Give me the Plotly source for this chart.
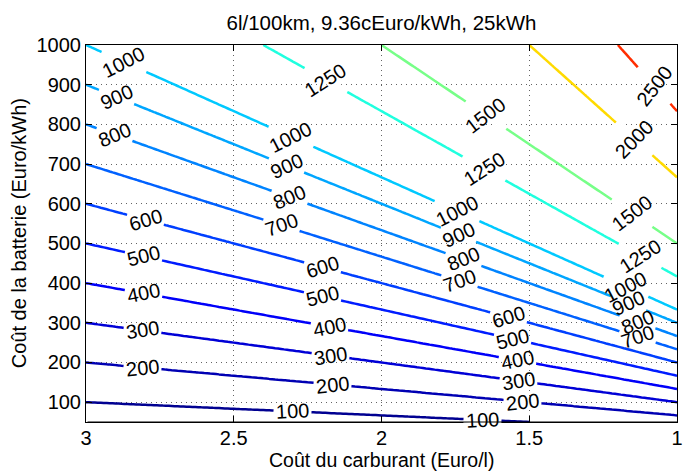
import math
import numpy as np
import plotly.graph_objects as go

# Axes of the study grid
fuel_price = np.linspace(1.0, 3.0, 201)        # Euro / l
battery_cost = np.linspace(50.0, 1000.0, 191)  # Euro / kWh

# Reference fuel price at which the index equals the battery cost
REF_FUEL_PRICE = 3.0

# Contour levels drawn on the chart
levels = [100, 200, 300, 400, 500, 600, 700, 800, 900, 1000, 1250, 1500, 2000, 2500]

# Fuel prices at which each level carries an inline label
label_fuel_prices = {
    100: [2.30, 1.657],
    200: [2.81, 2.166, 1.523],
    300: [2.81, 2.173, 1.536],
    400: [2.806, 2.176, 1.539],
    500: [2.806, 2.199, 1.556],
    600: [2.80, 2.199, 1.57],
    700: [2.34, 1.737, 1.134],
    800: [2.903, 2.31, 1.724, 1.134],
    900: [2.896, 2.32, 1.74, 1.164],
    1000: [2.873, 2.307, 1.744, 1.174],
    1250: [2.189, 1.653, 1.124],
    1500: [1.647, 1.151],
    2000: [1.144],
    2500: [1.077],
}

x_tick_vals = [3, 2.5, 2, 1.5, 1]
x_tick_text = ["3", "2.5", "2", "1.5", "1"]
y_tick_vals = [100, 200, 300, 400, 500, 600, 700, 800, 900, 1000]

title_text = "6l/100km, 9.36cEuro/kWh, 25kWh"
x_title = "Coût du carburant (Euro/l)"
y_title = "Coût de la batterie (Euro/kWh)"

X_RANGE = [3, 1]
Y_RANGE = [50, 1000]

# Index surface: battery cost scaled by the fuel price ratio
z = np.outer(battery_cost, REF_FUEL_PRICE / fuel_price)
z_min, z_max = float(z.min()), float(z.max())

W, H = 684, 471
M = dict(l=86, r=1, t=45, b=49)
plot_w = W - M["l"] - M["r"]
plot_h = H - M["t"] - M["b"]
px_per_x = plot_w / abs(X_RANGE[1] - X_RANGE[0])
px_per_y = plot_h / abs(Y_RANGE[1] - Y_RANGE[0])

FONT = "Liberation Sans, Arial, Helvetica, sans-serif"
LABEL_SIZE = 20
LABEL_TILT = 1.15  # labels lean a little steeper than the lines they sit on


def jet(t):
    """Classic jet colormap, t in [0, 1]."""
    t = min(max(t, 0.0), 1.0)
    r = np.clip(min(4 * t - 1.5, -4 * t + 4.5), 0, 1)
    g = np.clip(min(4 * t - 0.5, -4 * t + 3.5), 0, 1)
    b = np.clip(min(4 * t + 0.5, -4 * t + 2.5), 0, 1)
    return "rgb({},{},{})".format(int(round(r * 255)), int(round(g * 255)), int(round(b * 255)))


fig = go.Figure()
for lev in levels:
    color = jet((lev - z_min) / (z_max - z_min))
    fig.add_trace(go.Contour(
        x=fuel_price,
        y=battery_cost,
        z=z,
        contours=dict(start=lev, end=lev, size=1, coloring="none", showlabels=False),
        line=dict(color=color, width=2.5, smoothing=0),
        showscale=False,
        hoverinfo="skip",
    ))

# Inline labels: a thin white strip along the line opens a gap, then the text on top
gap_boxes, label_texts = [], []
for lev, xs in label_fuel_prices.items():
    # on-screen slope of the iso-line (it falls to the right on the reversed axis)
    slope = lev / REF_FUEL_PRICE * px_per_y / px_per_x
    line_deg = math.degrees(math.atan(slope))
    text_deg = math.degrees(math.atan(LABEL_TILT * slope))
    txt = str(lev)
    txt_w = 0.556 * LABEL_SIZE * len(txt)
    for xv in xs:
        yv = lev * xv / REF_FUEL_PRICE
        gap_boxes.append(dict(
            x=xv, y=yv, xref="x", yref="y", text=" ", showarrow=False,
            width=txt_w + 4, height=6, bgcolor="white", borderpad=0,
            textangle=line_deg, font=dict(size=1),
        ))
        label_texts.append(dict(
            x=xv, y=yv, xref="x", yref="y", text=txt, showarrow=False,
            textangle=-text_deg, borderpad=0,
            font=dict(family=FONT, size=LABEL_SIZE, color="black"),
        ))

# bottom frame edge redrawn over the gap strips
frame_fix = [dict(x=X_RANGE[1], y=Y_RANGE[0], ax=X_RANGE[0], ay=Y_RANGE[0],
                  xref="x", yref="y", axref="x", ayref="y", text="",
                  showarrow=True, arrowhead=0, arrowwidth=1, arrowcolor="black",
                  standoff=0, startstandoff=0)]

axis_titles = [
    dict(text=x_title, x=0.5, y=-(460 - (H - M["b"])) / plot_h, xref="paper", yref="paper",
         xanchor="center", yanchor="middle", showarrow=False,
         font=dict(family=FONT, size=19.5, color="black")),
    dict(text=y_title, x=-(M["l"] - 18) / plot_w, y=0.5, xref="paper", yref="paper",
         xanchor="center", yanchor="middle", showarrow=False, textangle=-90,
         font=dict(family=FONT, size=20, color="black")),
]

axis_common = dict(
    showline=True, linecolor="black", linewidth=1, mirror="ticks",
    ticks="inside", ticklen=6, tickcolor="black",
    showgrid=True, gridcolor="rgb(100,100,100)", griddash="1px,4px", gridwidth=1,
    zeroline=False, ticklabeloverflow="allow",
    tickfont=dict(family=FONT, size=20, color="black"),
)

fig.update_layout(
    width=W, height=H,
    margin=M,
    paper_bgcolor="white", plot_bgcolor="white",
    font=dict(family=FONT, size=20, color="black"),
    showlegend=False,
    title=dict(text=title_text, x=0.5, xref="paper", xanchor="center",
               y=1 - 23 / H, yref="container", yanchor="middle",
               font=dict(family=FONT, size=20.5, color="black")),
    xaxis=dict(range=X_RANGE, tickvals=x_tick_vals, ticktext=x_tick_text,
               ticklabelstandoff=-2, **axis_common),
    yaxis=dict(range=Y_RANGE, tickvals=y_tick_vals, **axis_common),
    annotations=gap_boxes + frame_fix + label_texts + axis_titles,
)

fig.write_html("out.html")
